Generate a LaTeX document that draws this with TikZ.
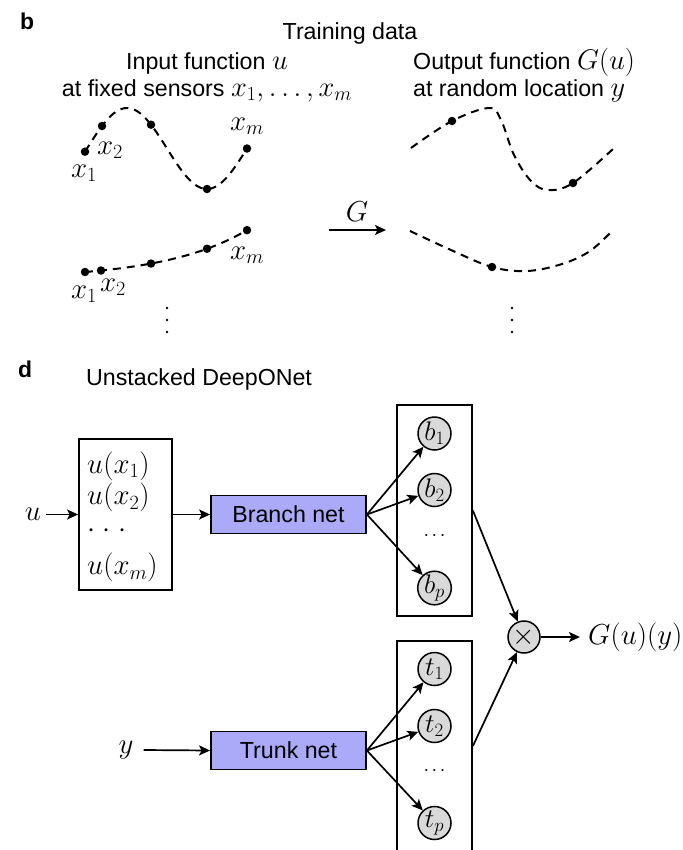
\RequirePackage{fix-cm}
\documentclass[tikz,border=0pt]{standalone}
\usepackage[no-math]{fontspec}
\newfontfamily\sansf{Liberation Sans}
\usetikzlibrary{arrows.meta}
\definecolor{netblue}{RGB}{170,170,248}
\definecolor{nodegray}{RGB}{217,217,217}
\newcommand\mymath[1]{{\fontsize{28.5}{31}\selectfont$#1$}}
\begin{document}
\begin{tikzpicture}[x=1bp,y=-1bp,
  declare function={fa(\x)=148.5-40.5*cos(2.25*(\x-127));
                    fb(\x)=272-7*(exp(0.012*(\x-85))-1);},
  sans/.style={font=\sansf\fontsize{23.3}{27}\selectfont, inner sep=0},
  mth/.style={font=\fontsize{29}{32}\selectfont, inner sep=0},
  panel/.style={font=\sansf\bfseries\fontsize{23}{26}\selectfont, inner sep=0},
  curve/.style={line width=2bp, dash pattern=on 8bp off 6bp},
  sdot/.style={circle, fill=black, inner sep=0, minimum size=8.5bp},
  arr/.style={line width=1.7bp, -{Stealth[length=11bp,width=10bp,inset=2.5bp]}},
  netbox/.style={draw, line width=1.8bp, fill=netblue, minimum width=155bp,
                 minimum height=38bp, inner sep=0, font=\sansf\fontsize{23.3}{27}\selectfont},
  vecbox/.style={draw, line width=1.8bp, inner sep=0},
  neuron/.style={circle, draw, line width=1.5bp, fill=nodegray, minimum size=33bp,
                 inner sep=0, font=\fontsize{27}{29}\selectfont},
]
\useasboundingbox (0,0) rectangle (683,850);
\fill[white] (0,0) rectangle (683,850);
\clip (0,0) rectangle (683,850);

% ---------- panel b ----------
\node[panel, anchor=base west] (lb) at (20,29) {b};
\node[sans, anchor=base] (title) at (350,39) {Training data};
\node[sans, anchor=base] (inl1) at (207,69) {Input function \mymath{u}};
\node[sans, anchor=base] (inl2) at (207,96) {at fixed sensors \mymath{x_1,\ldots,x_m}};
\node[sans, anchor=base west] (outl1) at (413,69) {Output function \mymath{G(u)}};
\node[sans, anchor=base west] (outl2) at (413,96) {at random location \mymath{y}};

% input function 1
\draw[curve] plot[domain=85:247,samples=80] (\x,{fa(\x)});
\node[sdot] (a1) at (85,{fa(85)}) {};
\node[sdot] (a2) at (102,{fa(102)}) {};
\node[sdot] (a3) at (151,{fa(151)}) {};
\node[sdot] (a4) at (207,{fa(207)}) {};
\node[sdot] (a5) at (247,{fa(247)}) {};
\node[mth] (a1l) at (84,173) {$x_1$};
\node[mth] (a2l) at (110,150) {$x_2$};
\node[mth] (a5l) at (247,126) {$x_m$};

% input function 2
\draw[curve] plot[domain=85:247,samples=80] (\x,{fb(\x)});
\node[sdot] (c1) at (85,{fb(85)}) {};
\node[sdot] (c2) at (101,{fb(101)}) {};
\node[sdot] (c3) at (151,{fb(151)}) {};
\node[sdot] (c4) at (207,{fb(207)}) {};
\node[sdot] (c5) at (247,{fb(247)}) {};
\node[mth] (c1l) at (84,294) {$x_1$};
\node[mth] (c2l) at (113,287) {$x_2$};
\node[mth] (c5l) at (247,255) {$x_m$};

\foreach \yy in {308,320,332} {\fill (167,\yy) circle (1.3bp);}
\foreach \yy in {308,320,332} {\fill (512,\yy) circle (1.3bp);}

% G arrow
\coordinate (ga) at (329,230);
\coordinate (gb) at (386,230);
\draw[arr] (ga) -- (gb);
\node[mth] (glab) at (357,212) {$G$};

% output functions
\draw[curve] plot[smooth, tension=0.6] coordinates {(411,148) (452,121) (489,108) (501,120) (514,155) (531,181) (548,190) (573,183) (613,149)};
\node[sdot] (d1) at (452,121) {};
\node[sdot] (d2) at (573,183) {};
\draw[curve] plot[smooth, tension=0.6] coordinates {(410,231) (451,250) (492,267) (527,271) (562,264) (590,251) (613,230)};
\node[sdot] (e1) at (492,267) {};

% ---------- panel d ----------
\node[panel, anchor=base west] (ld) at (18,377) {d};
\node[sans, anchor=base west] (utitle) at (86,385) {Unstacked DeepONet};

\node[mth, inner sep=5bp] (uin) at (33,514.5) {$u$};
\node[vecbox, minimum width=93bp, minimum height=151bp] (inbox) at (125.5,514.5) {};
\node[mth, anchor=west] (ux1) at (87,466) {$u(x_1)$};
\node[mth, anchor=west] (ux2) at (87,497.5) {$u(x_2)$};
\node[mth, anchor=west] (uxd) at (87,531) {${\cdot}\kern7.5bp{\cdot}\kern7.5bp{\cdot}$};
\node[mth, anchor=west] (uxm) at (87,567.5) {$u(x_m)$};

\node[netbox] (branch) at (288.5,514.5) {Branch net};
\draw[arr] (uin.east) -- (inbox.west);
\draw[arr] (inbox.east) -- (branch.west);

\node[vecbox, minimum width=75bp, minimum height=211bp] (bbox) at (434.5,510.5) {};
\node[neuron] (b1) at (434.5,433.5) {$b_1$};
\node[neuron] (b2) at (434.5,490) {$b_2$};
\node[font=\fontsize{20}{22}\selectfont, inner sep=0] (bd) at (434.5,536) {${\cdot}\kern2.6bp{\cdot}\kern2.6bp{\cdot}$};
\node[neuron] (bp) at (434.5,588) {$b_p$};
\draw[arr] (branch.east) -- (b1);
\draw[arr] (branch.east) -- (b2);
\draw[arr] (branch.east) -- (bp);

\node[mth, inner sep=10bp] (yin) at (126,750) {$y$};
\node[netbox] (trunk) at (288.5,750.5) {Trunk net};
\draw[arr] (yin.east) -- (trunk.west);

\node[vecbox, minimum width=75bp, minimum height=210bp] (tbox) at (434.5,746) {};
\node[neuron] (t1) at (434.5,669) {$t_1$};
\node[neuron] (t2) at (434.5,726) {$t_2$};
\node[font=\fontsize{20}{22}\selectfont, inner sep=0] (td) at (434.5,771) {${\cdot}\kern2.6bp{\cdot}\kern2.6bp{\cdot}$};
\node[neuron] (tp) at (434.5,823) {$t_p$};
\draw[arr] (trunk.east) -- (t1);
\draw[arr] (trunk.east) -- (t2);
\draw[arr] (trunk.east) -- (tp);

\node[neuron, minimum size=32bp, font=\fontsize{29}{31}\selectfont] (times) at (524,637) {$\times$};
\draw[arr] (bbox.east) -- (times);
\draw[arr] (tbox.east) -- (times);
\node[mth, anchor=west] (out) at (588,637) {$G(u)(y)$};
\draw[arr, shorten >=8bp] (times.east) -- (out.west);
\end{tikzpicture}
\end{document}
